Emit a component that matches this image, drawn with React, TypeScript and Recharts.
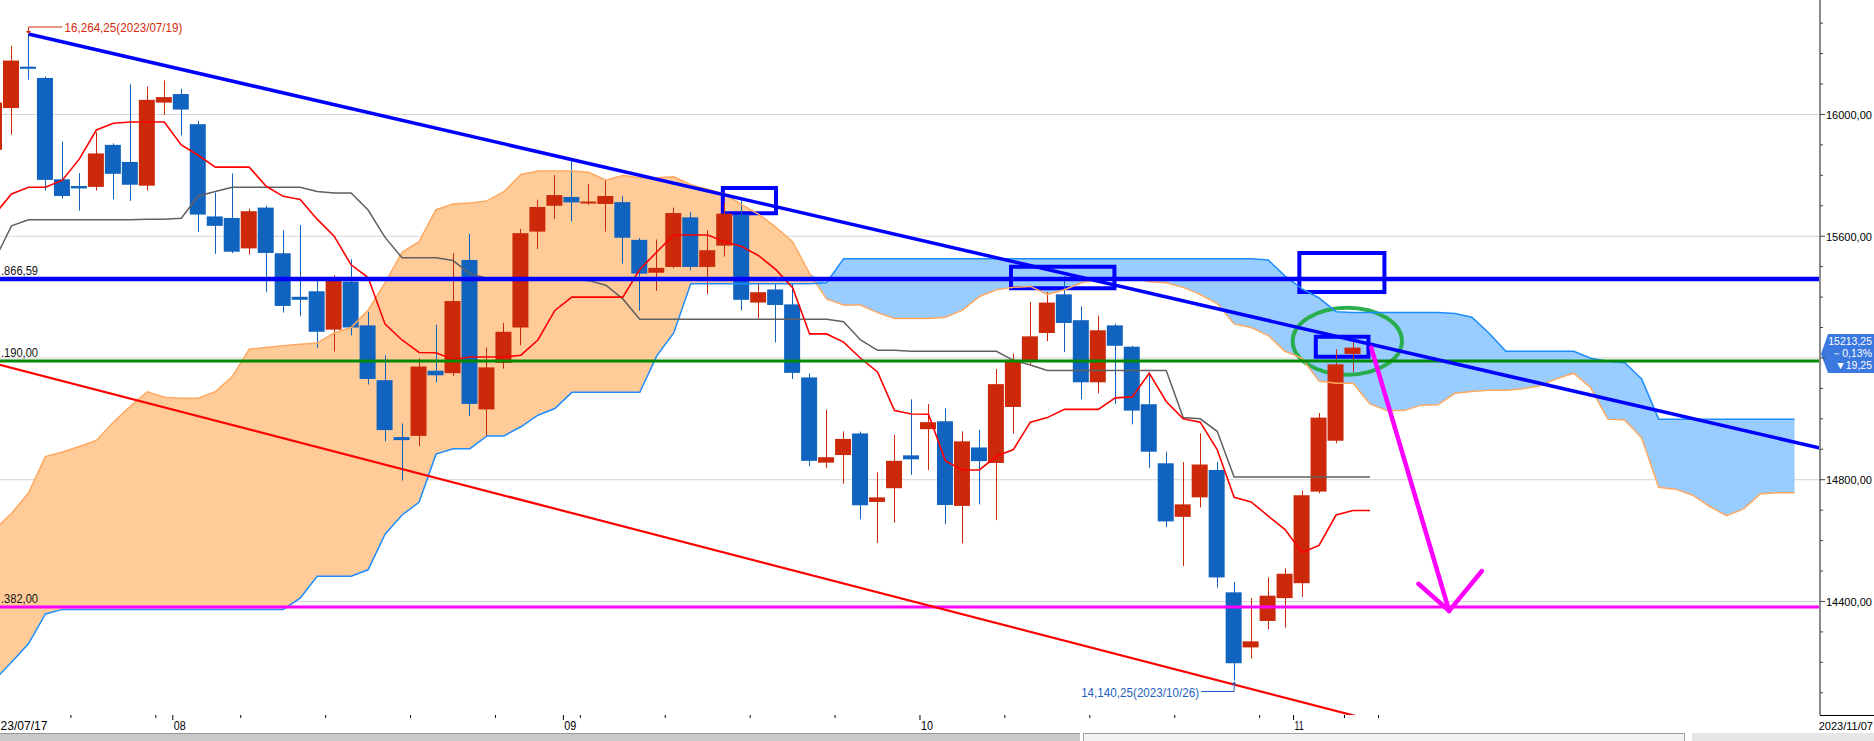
import React from 'react';
import {
    ComposedChart, Bar, Line, Area, XAxis, YAxis, CartesianGrid,
    ReferenceLine, ReferenceArea, ReferenceDot,
} from 'recharts';

// daily candles 2023/07/17 .. 2023/11/06 (slot index = trading day)
const OPEN = [
    15884, 16021, 16157, 16120, 15787, 15765, 15762, 15900, 15844, 15766,
    16039, 16067, 15968, 15665, 15660, 15560, 15694, 15544, 15401, 15419,
    15293, 15451, 15307, 15127, 14940, 14944, 15158, 15150, 15522, 15031,
    15184, 15300, 15615, 15700, 15729, 15708, 15706, 15712, 15588, 15480,
    15499, 15662, 15499, 15569, 15671, 15382, 15425, 15376, 15136, 14856,
    14881, 14952, 14727, 14772, 14880, 14966, 14992, 14714, 14906, 14855,
    15039, 15189, 15282, 15409, 15324, 15120, 15307, 15237, 15048, 14854,
    14678, 14742, 14832, 14430, 14249, 14336, 14411, 14460, 14761, 14928,
    15213.25,
];
const HIGH = [
    16060, 16226, 16264.25, 16125, 15911, 15807, 15941, 15905, 16099, 16091,
    16112, 16084, 15979, 15743, 15806, 15690, 15700, 15619, 15637, 15454,
    15472, 15524, 15352, 15209, 14985, 15199, 15309, 15544, 15607, 15234,
    15315, 15624, 15720, 15801, 15852, 15772, 15784, 15732, 15594, 15589,
    15694, 15679, 15619, 15709, 15719, 15446, 15443, 15443, 15149, 15030,
    14959, 14958, 14824, 14948, 15064, 15049, 15034, 14959, 14964, 15164,
    15214, 15384, 15417, 15469, 15369, 15339, 15312, 15240, 15154, 14892,
    14858, 14952, 14859, 14464, 14411, 14479, 14509, 14764, 15019, 15229,
    15259,
];
const LOW = [
    15860, 15934, 16114, 15750, 15724, 15684, 15750, 15721, 15716, 15750,
    15998, 15931, 15614, 15542, 15544, 15540, 15416, 15349, 15337, 15233,
    15221, 15274, 15113, 14926, 14797, 14910, 15120, 15140, 15009, 14940,
    15165, 15241, 15558, 15657, 15649, 15702, 15615, 15510, 15355, 15421,
    15495, 15488, 15409, 15533, 15356, 15331, 15251, 15131, 14844, 14839,
    14787, 14670, 14592, 14659, 14816, 14831, 14654, 14591, 14719, 14667,
    14952, 15177, 15255, 15219, 15064, 15084, 15049, 14982, 14839, 14644,
    14516, 14709, 14445, 14140.25, 14212, 14309, 14314, 14415, 14755, 14920,
    15154,
];
const CLOSE = [
    16039, 16177, 16150, 15785, 15732, 15757, 15872, 15805, 15769, 16048,
    16057, 16016, 15671, 15634, 15549, 15682, 15545, 15371, 15391, 15286,
    15454, 15300, 15131, 14963, 14930, 15172, 15143, 15387, 15049, 15169,
    15286, 15610, 15696, 15735, 15711, 15714, 15732, 15595, 15477, 15496,
    15676, 15499, 15554, 15674, 15391, 15416, 15374, 15151, 14862, 14874,
    14934, 14716, 14742, 14862, 14867, 14989, 14717, 14926, 14861, 15114,
    15194, 15271, 15382, 15315, 15120, 15291, 15240, 15027, 14892, 14663,
    14719, 14850, 14479, 14197, 14269, 14419, 14491, 14749, 15004, 15179,
    15234,
];

// ichimoku: conversion (tenkan) and base (kijun) lines
const TENKAN = [
    15671, 15739, 15761, 15761, 15784, 15854, 15949, 15971, 15975, 15975,
    15975, 15900, 15866, 15827, 15827, 15827, 15764, 15731, 15721, 15656,
    15600, 15506, 15464, 15311, 15259, 15218, 15217, 15195, 15203, 15203,
    15203, 15209, 15259, 15356, 15400, 15400, 15400, 15400, 15491, 15548,
    15604, 15604, 15604, 15582, 15566, 15536, 15491, 15431, 15279, 15279,
    15252, 15199, 15154, 15027, 15016, 15015, 14862, 14832, 14832, 14877,
    14899, 14989, 15004, 15031, 15031, 15031, 15069, 15072, 15150, 15057,
    15000, 14989, 14899, 14742, 14727, 14681, 14636, 14561, 14584, 14684,
    14699, 14699,
];
const KIJUN = [
    15521, 15634, 15654, 15654, 15654, 15654, 15654, 15654, 15654, 15656,
    15656, 15659, 15732, 15747, 15761, 15761, 15761, 15761, 15761, 15747,
    15742, 15742, 15686, 15596, 15529, 15529, 15529, 15520, 15477, 15462,
    15459, 15459, 15459, 15459, 15459, 15454, 15439, 15394, 15327, 15327,
    15327, 15327, 15327, 15327, 15327, 15327, 15327, 15327, 15327, 15327,
    15319, 15259, 15225, 15225, 15222, 15222, 15222, 15222, 15222, 15222,
    15192, 15177, 15159, 15159, 15159, 15159, 15159, 15159, 15159, 15159,
    15004, 15000, 14959, 14809, 14809, 14809, 14809, 14809, 14809, 14809,
    14809, 14809,
];

// leading spans (cloud), shifted 26 days ahead
const SPAN_A = [
    14142, 14200, 14261, 14359, 14374, 14374, 14374, 14374, 14374, 14374,
    14374, 14374, 14374, 14374, 14374, 14374, 14374, 14374, 14411, 14483,
    14483, 14483, 14504, 14621, 14684, 14726, 14884, 14902, 14902, 14944,
    14944, 14974, 15012, 15034, 15087, 15087, 15087, 15087, 15087, 15207,
    15282, 15444, 15444, 15444, 15444, 15444, 15444, 15444, 15444, 15447,
    15526, 15526, 15526, 15526, 15526, 15526, 15526, 15526, 15526, 15526,
    15526, 15526, 15526, 15526, 15526, 15526, 15526, 15526, 15526, 15526,
    15526, 15526, 15526, 15526, 15526, 15522, 15469, 15427, 15397, 15352,
    15349, 15349, 15349, 15349, 15349, 15349, 15346, 15334, 15282, 15222,
    15222, 15222, 15222, 15222, 15199, 15189, 15184, 15131, 14999, 14999,
    14999, 14999, 14999, 14999, 14999, 14999, 14999,
];
const SPAN_B = [
    14636, 14689, 14756, 14876, 14891, 14909, 14929, 14989, 15041, 15089,
    15071, 15068, 15068, 15089, 15139, 15229, 15234, 15240, 15245, 15249,
    15282, 15300, 15357, 15447, 15547, 15582, 15687, 15706, 15709, 15716,
    15746, 15803, 15814, 15814, 15814, 15810, 15784, 15799, 15792, 15792,
    15795, 15769, 15754, 15739, 15704, 15672, 15630, 15582, 15477, 15394,
    15374, 15374, 15349, 15330, 15330, 15330, 15334, 15357, 15402, 15424,
    15432, 15435, 15409, 15424, 15447, 15459, 15462, 15462, 15450, 15447,
    15432, 15409, 15379, 15312, 15300, 15274, 15222, 15199, 15124, 15117,
    15117, 15049, 15027, 15027, 15045, 15046, 15084, 15090, 15094, 15094,
    15099, 15109, 15132, 15150, 15102, 14999, 14996, 14937, 14775, 14769,
    14749, 14712, 14682, 14704, 14754, 14757, 14757,
];

const SLOTS = 108;
const PRICE_DOMAIN = [14027, 16376];
const PRICE_TICKS = [
    14100, 14200, 14300, 14400, 14500, 14600, 14700, 14800, 14900, 15000, 15100, 15200,
    15300, 15400, 15500, 15600, 15700, 15800, 15900, 16000, 16100, 16200, 16300,
];
const MAJOR_TICKS = [14400, 14800, 15200, 15600, 16000];
const MONTH_TICKS = [10.5, 33.5, 54.5, 76.5];
const MONTH_LABELS = ['08', '09', '10', '11'];
const WEEK_TICKS = [4.5, 9.5, 14.5, 19.5, 24.5, 29.5, 34.5, 39.5, 44.5, 49.5, 59.5, 64.5, 69.5, 74.5, 79.5, 81.5];
const X_START = -0.5;
const X_END = 107.5;
const START_LABEL = '23/07/17';
const END_LABEL = '2023/11/07';

// drawn annotations (slot, price)
const LEVELS = [
    { price: 15459, label: '.866,59', color: '#0000ff', width: 4.5 },
    { price: 15190, label: '.190,00', color: '#008a00', width: 3 },
    { price: 14382, label: '.382,00', color: '#ff00ff', width: 3 },
];
const TREND_HIGH = [{ x: 2, y: 16264.25 }, { x: 107.5, y: 14904 }];
const TREND_LOW = [{ x: -0.5, y: 15189 }, { x: 82, y: 13997 }];
const BOXES = [
    [42.89, 46.02, 15675, 15758],
    [59.86, 65.95, 15429, 15500],
    [76.84, 81.85, 15417, 15545],
    [77.81, 80.91, 15204, 15270],
];
const ELLIPSE = [76.45, 82.88, 15145, 15365];
const ARROW = [
    [{ x: 81.07, y: 15234 }, { x: 85.66, y: 14369 }],
    [{ x: 83.85, y: 14458 }, { x: 85.66, y: 14369 }],
    [{ x: 87.59, y: 14500 }, { x: 85.66, y: 14369 }],
];
const HIGH_MARK = { x: 2, y: 16264.25, label: '16,264,25(2023/07/19)' };
const LOW_MARK = { x: 73, y: 14140.25, label: '14,140,25(2023/10/26)' };
const LAST = { price: 15213.25, lines: ['15213,25', '－0,13%', '▼19,25'] };

const RED = '#cc290a';
const BLUE = '#1163c0';
const FONT = "'Liberation Sans', Arial, sans-serif";

const data = Array.from({ length: SLOTS }, (_, i) => {
    const candle = i < OPEN.length;
    const a = SPAN_A[i];
    const b = SPAN_B[i];
    const cloud = a !== undefined && b !== undefined;
    return {
        i,
        o: candle ? OPEN[i] : null,
        h: candle ? HIGH[i] : null,
        l: candle ? LOW[i] : null,
        c: candle ? CLOSE[i] : null,
        range: candle ? [LOW[i], HIGH[i]] : null,
        tenkan: TENKAN[i] ?? null,
        kijun: KIJUN[i] ?? null,
        spanA: cloud ? a : null,
        spanB: cloud ? b : null,
        cloudOrange: cloud ? [a, Math.max(a, b)] : null,
        cloudBlue: cloud ? [b, Math.max(a, b)] : null,
    };
});

const Candle = (props: any) => {
    const { x, y, width, height, payload } = props;
    if (!payload || payload.o == null) return null;
    const { o, h, l, c } = payload;
    const top = Math.min(y, y + height);
    const bot = Math.max(y, y + height);
    const k = h === l ? 0 : (bot - top) / (h - l);
    const py = (v: number) => top + (h - v) * k;
    const color = c >= o ? RED : BLUE;
    const bt = py(Math.max(o, c));
    const bb = py(Math.min(o, c));
    const cx = Math.round(x + width / 2) + 0.5;
    return (
        <g>
            <line x1={cx} x2={cx} y1={top} y2={bot} stroke={color} strokeWidth={1} />
            <rect x={x} y={bt} width={width} height={Math.max(bb - bt, 2)} fill={color} />
        </g>
    );
};

const PriceTick = (props: any) => {
    const { x, y, payload } = props;
    const v = payload.value;
    const major = MAJOR_TICKS.includes(v);
    return (
        <g>
            <line x1={x} x2={x + (major ? 5 : 3)} y1={y} y2={y} stroke="#444" />
            {major && v !== 15200 && (
                <text x={x + 6} y={y + 4.5} fontSize={11} fill="#000" fontFamily={FONT}>{`${v},00`}</text>
            )}
        </g>
    );
};

// date ticks drawn at the bottom edge of the plot (cy = bottom of the price domain)
const txt = { fontSize: 13, fill: '#000', fontFamily: FONT, lengthAdjust: 'spacingAndGlyphs' } as any;

const WeekTick = (props: any) => {
    const { cx, cy } = props;
    return <line x1={cx} x2={cx} y1={cy} y2={cy + 3} stroke="#000" />;
};

const MonthTick = (props: any) => {
    const { cx, cy, text } = props;
    return (
        <g>
            <line x1={cx} x2={cx} y1={cy} y2={cy + 5} stroke="#000" />
            <text x={cx + 1} y={cy + 15} textLength={text === '11' ? 9 : 12} {...txt}>{text}</text>
        </g>
    );
};

const StartLabel = (props: any) => {
    const { cx, cy } = props;
    return <text x={cx + 14.5} y={cy + 15} textLength={47} {...txt}>{START_LABEL}</text>;
};

const EndLabel = (props: any) => {
    const { cx, cy } = props;
    return (
        <text x={cx + 53} y={cy + 15} textAnchor="end" fontSize={11} fill="#000" fontFamily={FONT}>{END_LABEL}</text>
    );
};

const LevelLabel = (props: any) => {
    const { viewBox, text } = props;
    if (!viewBox) return null;
    return (
        <text x={viewBox.x + 15} y={viewBox.y - 4} fontSize={12} fill="#111" fontFamily={FONT}
            textLength={37} lengthAdjust="spacingAndGlyphs">{text}</text>
    );
};

const HighMark = (props: any) => {
    const { cx, cy } = props;
    return (
        <g>
            <polygon points={`${cx - 2.5},${cy - 3} ${cx + 2.5},${cy - 3} ${cx},${cy}`} fill="#d42c0a" />
            <polyline points={`${cx},${cy - 2} ${cx},${cy - 7} ${cx + 34},${cy - 7}`} fill="none" stroke="#d42c0a" strokeWidth={1} />
            <text x={cx + 36} y={cy - 2} fontSize={13} fill="#d42c0a" fontFamily={FONT}
                textLength={118} lengthAdjust="spacingAndGlyphs">{HIGH_MARK.label}</text>
        </g>
    );
};

const LowMark = (props: any) => {
    const { cx, cy } = props;
    return (
        <g>
            <polygon points={`${cx - 2.5},${cy + 4} ${cx + 2.5},${cy + 4} ${cx},${cy + 1}`} fill="#1f5fc0" />
            <polyline points={`${cx},${cy + 3} ${cx},${cy + 11} ${cx - 33},${cy + 11}`} fill="none" stroke="#1f5fc0" strokeWidth={1} />
            <text x={cx - 35} y={cy + 16} textAnchor="end" fontSize={13} fill="#1f5fc0" fontFamily={FONT}
                textLength={118} lengthAdjust="spacingAndGlyphs">{LOW_MARK.label}</text>
        </g>
    );
};

const PriceTag = (props: any) => {
    const { cx, cy } = props;
    const t = { fontSize: 10.5, fill: '#fff', fontFamily: FONT, textAnchor: 'end' } as any;
    return (
        <g>
            <polygon
                points={`${cx + 1},${cy} ${cx + 8},${cy - 20} ${cx + 54},${cy - 20} ${cx + 54},${cy + 19} ${cx + 8},${cy + 19}`}
                fill="#3b78e0"
            />
            <text x={cx + 52} y={cy - 9} {...t}>{LAST.lines[0]}</text>
            <text x={cx + 52} y={cy + 3} {...t}>{LAST.lines[1]}</text>
            <text x={cx + 52} y={cy + 15} {...t}>{LAST.lines[2]}</text>
        </g>
    );
};

const EllipseShape = (props: any) => {
    const { x, y, width, height } = props;
    return (
        <ellipse cx={x + width / 2} cy={y + height / 2} rx={width / 2} ry={height / 2}
            fill="none" stroke="#2aad4c" strokeWidth={4} />
    );
};

export default function App() {
    const bottom = PRICE_DOMAIN[0];
    return (
        <div style={{ position: 'fixed', left: 0, top: 0, width: 1874, height: 741, overflow: 'hidden', background: '#fff' }}>
            <div style={{ position: 'absolute', left: -14, top: 0 }}>
                <ComposedChart width={1888} height={741} data={data} margin={{ top: 0, right: 0, bottom: 0, left: 0 }}>
                    <CartesianGrid
                        xAxisId="n"
                        stroke="#d4d4d4"
                        horizontalValues={MAJOR_TICKS}
                        verticalValues={MONTH_TICKS}
                    />
                    <XAxis xAxisId="c" dataKey="i" type="category" scale="band" hide />
                    <XAxis
                        xAxisId="n"
                        dataKey="i"
                        type="number"
                        domain={[X_START, X_END]}
                        allowDataOverflow
                        height={26}
                        tick={false}
                        tickLine={false}
                        axisLine={{ stroke: '#000', strokeWidth: 1.2 }}
                    />
                    <YAxis
                        orientation="right"
                        width={54}
                        domain={PRICE_DOMAIN}
                        allowDataOverflow
                        ticks={PRICE_TICKS}
                        interval={0}
                        tickSize={0}
                        tickMargin={0}
                        tick={<PriceTick />}
                        axisLine={{ stroke: '#8a8a8a', strokeWidth: 2 }}
                    />

                    <Area xAxisId="c" type="linear" dataKey="cloudOrange" stroke="none" fill="#ffcc99" fillOpacity={1}
                        isAnimationActive={false} dot={false} activeDot={false} />
                    <Area xAxisId="c" type="linear" dataKey="cloudBlue" stroke="none" fill="#99ccff" fillOpacity={1}
                        isAnimationActive={false} dot={false} activeDot={false} />
                    <Line xAxisId="c" type="linear" dataKey="spanB" stroke="#ffa860" strokeWidth={1.5} dot={false}
                        activeDot={false} isAnimationActive={false} />
                    <Line xAxisId="c" type="linear" dataKey="spanA" stroke="#1e8cff" strokeWidth={1.5} dot={false}
                        activeDot={false} isAnimationActive={false} />
                    <Line xAxisId="c" type="linear" dataKey="kijun" stroke="#606060" strokeWidth={1.5} dot={false}
                        activeDot={false} isAnimationActive={false} />
                    <Line xAxisId="c" type="linear" dataKey="tenkan" stroke="#ff0000" strokeWidth={1.6} dot={false}
                        activeDot={false} isAnimationActive={false} />
                    <Bar xAxisId="c" dataKey="range" barSize={16} shape={<Candle />} isAnimationActive={false} />

                    {LEVELS.map((lv) => (
                        <ReferenceLine key={lv.price} xAxisId="n" y={lv.price} stroke={lv.color} strokeWidth={lv.width}
                            label={<LevelLabel text={lv.label} />} />
                    ))}
                    <ReferenceLine xAxisId="n" segment={TREND_LOW} stroke="#ff0000" strokeWidth={2.2} ifOverflow="hidden" />
                    <ReferenceLine xAxisId="n" segment={TREND_HIGH} stroke="#0000ff" strokeWidth={3.5} ifOverflow="hidden" />
                    {BOXES.map((b, idx) => (
                        <ReferenceArea key={idx} xAxisId="n" x1={b[0]} x2={b[1]} y1={b[2]} y2={b[3]}
                            fill="none" fillOpacity={0} stroke="#0000ff" strokeWidth={4} ifOverflow="visible" />
                    ))}
                    <ReferenceArea xAxisId="n" x1={ELLIPSE[0]} x2={ELLIPSE[1]} y1={ELLIPSE[2]} y2={ELLIPSE[3]}
                        ifOverflow="visible" shape={EllipseShape} />
                    {ARROW.map((seg, idx) => (
                        <ReferenceLine key={idx} xAxisId="n" segment={seg} stroke="#ff00ff" strokeWidth={4.5}
                            strokeLinecap="round" ifOverflow="visible" />
                    ))}
                    <ReferenceDot xAxisId="n" x={HIGH_MARK.x} y={HIGH_MARK.y} ifOverflow="visible" shape={HighMark} />
                    <ReferenceDot xAxisId="n" x={LOW_MARK.x} y={LOW_MARK.y} ifOverflow="visible" shape={LowMark} />
                    <ReferenceDot xAxisId="n" x={X_END} y={LAST.price} ifOverflow="visible" shape={PriceTag} />

                    {WEEK_TICKS.map((w) => (
                        <ReferenceDot key={`w${w}`} xAxisId="n" x={w} y={bottom} ifOverflow="visible" shape={WeekTick} />
                    ))}
                    {MONTH_TICKS.map((m, idx) => (
                        <ReferenceDot key={`m${m}`} xAxisId="n" x={m} y={bottom} ifOverflow="visible"
                            shape={(p: any) => <MonthTick {...p} text={MONTH_LABELS[idx]} />} />
                    ))}
                    <ReferenceDot xAxisId="n" x={X_START} y={bottom} ifOverflow="visible" shape={StartLabel} />
                    <ReferenceDot xAxisId="n" x={X_END} y={bottom} ifOverflow="visible" shape={EndLabel} />
                </ComposedChart>
            </div>
            <div style={{ position: 'absolute', left: 1820, top: 715, width: 54, height: 1, background: '#000' }} />
            <div style={{ position: 'absolute', left: 0, top: 733, width: 1080, height: 8, background: '#c9c9c9', borderTop: '1px solid #999' }} />
            <div style={{ position: 'absolute', left: 1083, top: 733, width: 600, height: 7, background: '#f2f2f2', border: '1px solid #a0a0a0' }} />
            <div style={{ position: 'absolute', left: 1692, top: 733, width: 182, height: 8, background: '#e6e6e6' }} />
        </div>
    );
}
